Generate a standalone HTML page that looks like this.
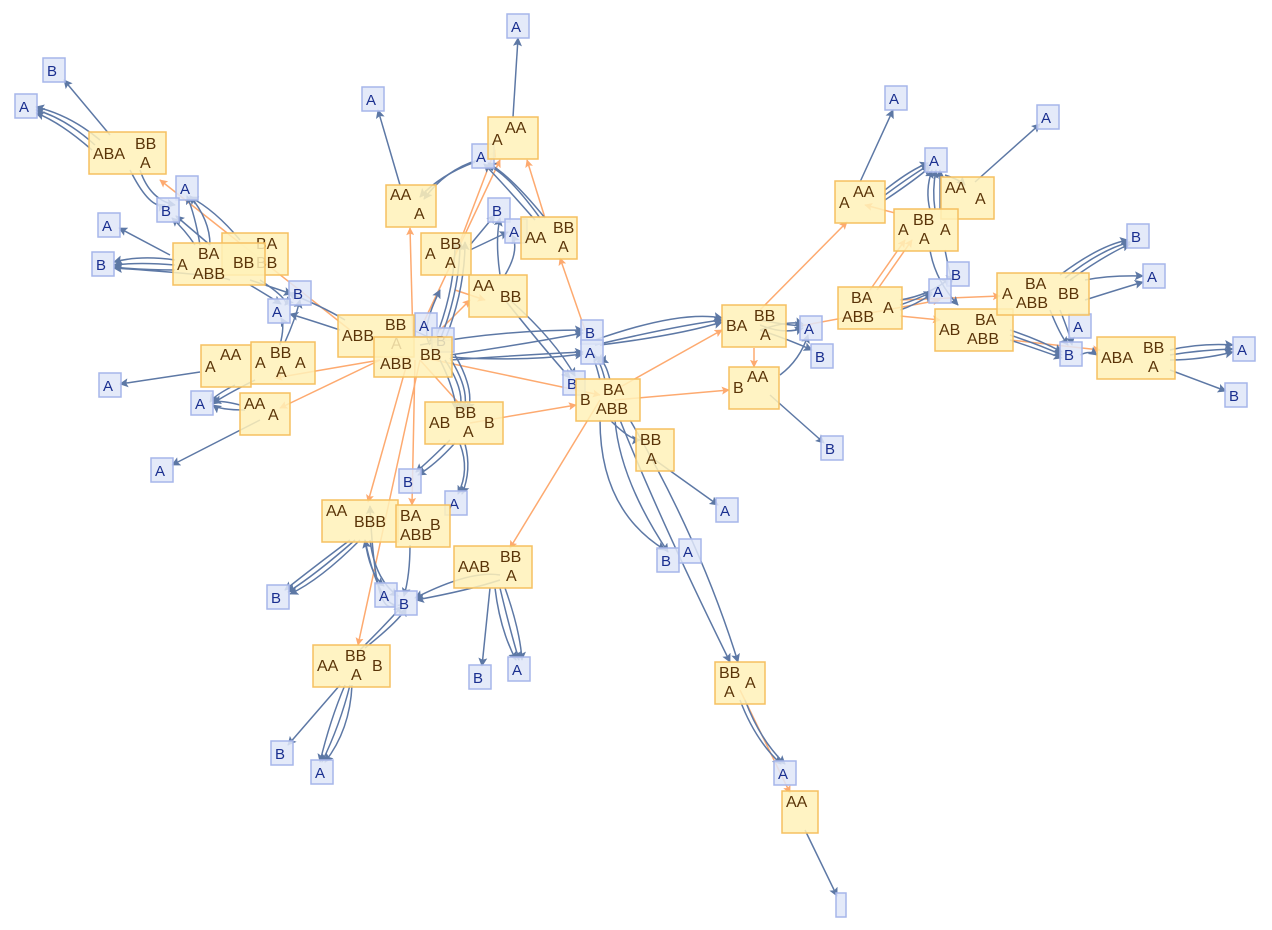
<!DOCTYPE html>
<html><head><meta charset="utf-8"><style>
html,body{margin:0;padding:0;background:#fff;}
svg{display:block;font-family:"Liberation Sans",sans-serif;}
.y{fill:#fff1b8;fill-opacity:.85;stroke:#f5c060;stroke-width:1.5}
.b{fill:#dfe6f8;fill-opacity:.85;stroke:#a6b6ea;stroke-width:1.5}
.yt{fill:#5a3408;font-size:16px}
.bt{fill:#1a2f8f;font-size:15px}
.e{fill:none;stroke:#5d78a5;stroke-width:1.5;marker-end:url(#ab)}
.o{fill:none;stroke:#fdaa70;stroke-width:1.5;marker-end:url(#ao)}
</style></head><body>
<svg width="1272" height="930" viewBox="0 0 1272 930">
<defs>
<marker id="ab" viewBox="0 0 10 10" refX="9" refY="5" markerWidth="9" markerHeight="9" orient="auto" markerUnits="userSpaceOnUse"><path d="M0,0L10,5L0,10L2,5z" fill="#5d78a5"/></marker>
<marker id="ao" viewBox="0 0 10 10" refX="9" refY="5" markerWidth="8" markerHeight="8" orient="auto" markerUnits="userSpaceOnUse"><path d="M0,0L10,5L0,10L2,5z" fill="#fdaa70"/></marker>
</defs>
<!-- orange edges -->
<g>
<path class="o" d="M413,340L410,228"/>
<path class="o" d="M420,330L500,160"/>
<path class="o" d="M545,218L527,160"/>
<path class="o" d="M408,360L368,502"/>
<path class="o" d="M415,360L412,505"/>
<path class="o" d="M420,360L358,645"/>
<path class="o" d="M420,357L600,395"/>
<path class="o" d="M420,360L465,410"/>
<path class="o" d="M380,360L275,378"/>
<path class="o" d="M380,360L280,408"/>
<path class="o" d="M350,330L160,180"/>
<path class="o" d="M600,400L510,548"/>
<path class="o" d="M615,390L722,330"/>
<path class="o" d="M615,400L729,390"/>
<path class="o" d="M585,330L560,258"/>
<path class="o" d="M754,348L754,367"/>
<path class="o" d="M760,310L847,222"/>
<path class="o" d="M870,290L905,240"/>
<path class="o" d="M877,290L912,240"/>
<path class="o" d="M895,213L865,205"/>
<path class="o" d="M900,300L1000,296"/>
<path class="o" d="M900,316L940,320"/>
<path class="o" d="M1010,340L1100,350"/>
<path class="o" d="M470,423L576,405"/>
<path class="o" d="M740,690L790,793"/>
<path class="o" d="M440,330L470,300"/>
<path class="o" d="M455,290L485,300"/>
<path class="o" d="M455,255L495,150"/>
<path class="o" d="M800,326L940,300"/>
</g>
<!-- blue edges -->
<g>
<path class="e" d="M110,135L64,80"/>
<path class="e" d="M100,140Q70,115 36,107"/>
<path class="e" d="M95,145Q65,118 36,110"/>
<path class="e" d="M92,150Q60,122 36,113"/>
<path class="e" d="M200,245Q195,215 187,196"/>
<path class="e" d="M210,245Q210,220 190,196"/>
<path class="e" d="M240,240Q215,210 190,197"/>
<path class="e" d="M195,245Q185,230 172,218"/>
<path class="e" d="M210,245Q190,228 176,216"/>
<path class="e" d="M170,255L119,228"/>
<path class="e" d="M175,260Q140,255 114,262"/>
<path class="e" d="M175,265Q140,262 114,265"/>
<path class="e" d="M175,270Q140,270 114,267"/>
<path class="e" d="M230,280Q220,275 114,268"/>
<path class="e" d="M250,280L292,294"/>
<path class="e" d="M260,280Q290,300 285,305"/>
<path class="e" d="M250,285Q275,300 281,304"/>
<path class="e" d="M140,170Q150,200 175,205"/>
<path class="e" d="M130,170Q150,210 165,205"/>
<path class="e" d="M400,185L378,110"/>
<path class="e" d="M513,117L518,38"/>
<path class="e" d="M540,218Q505,170 486,165"/>
<path class="e" d="M545,218Q510,175 488,163"/>
<path class="e" d="M535,220Q500,180 484,164"/>
<path class="e" d="M475,162Q440,175 420,197"/>
<path class="e" d="M478,160Q445,170 424,199"/>
<path class="e" d="M470,245L495,215"/>
<path class="e" d="M470,250L508,232"/>
<path class="e" d="M505,275Q520,250 512,235"/>
<path class="e" d="M500,275Q495,240 500,218"/>
<path class="e" d="M505,300Q545,350 570,378"/>
<path class="e" d="M510,300Q555,340 575,376"/>
<path class="e" d="M413,330L437,341"/>
<path class="e" d="M420,345Q500,330 583,330"/>
<path class="e" d="M450,355Q520,345 583,333"/>
<path class="e" d="M450,360Q520,355 583,352"/>
<path class="e" d="M450,357Q520,362 583,354"/>
<path class="e" d="M440,360Q455,390 456,410"/>
<path class="e" d="M445,360Q465,390 460,410"/>
<path class="e" d="M450,358Q470,390 464,410"/>
<path class="e" d="M455,355Q475,390 468,410"/>
<path class="e" d="M440,340Q460,290 460,242"/>
<path class="e" d="M445,340Q465,290 465,242"/>
<path class="e" d="M435,340Q455,290 455,242"/>
<path class="e" d="M345,320Q320,305 288,293"/>
<path class="e" d="M340,330Q310,320 290,314"/>
<path class="e" d="M200,372L120,384"/>
<path class="e" d="M235,385Q215,395 210,402"/>
<path class="e" d="M255,380Q225,395 212,404"/>
<path class="e" d="M240,405Q220,400 213,402"/>
<path class="e" d="M245,410Q220,410 213,405"/>
<path class="e" d="M260,420L172,465"/>
<path class="e" d="M280,345Q285,325 281,318"/>
<path class="e" d="M285,342Q295,320 300,300"/>
<path class="e" d="M450,440Q430,460 416,472"/>
<path class="e" d="M455,443Q435,465 418,475"/>
<path class="e" d="M460,444Q470,470 458,494"/>
<path class="e" d="M465,444Q472,470 462,494"/>
<path class="e" d="M600,380Q595,360 594,362"/>
<path class="e" d="M605,380Q600,360 597,362"/>
<path class="e" d="M610,380Q605,360 600,362"/>
<path class="e" d="M600,420Q600,510 665,550"/>
<path class="e" d="M615,420Q620,480 668,552"/>
<path class="e" d="M630,420Q700,540 738,662"/>
<path class="e" d="M620,420Q660,520 730,662"/>
<path class="e" d="M655,460L718,505"/>
<path class="e" d="M610,420Q630,440 640,440"/>
<path class="e" d="M595,340Q680,310 722,318"/>
<path class="e" d="M595,345Q680,325 722,320"/>
<path class="e" d="M600,345Q680,335 722,322"/>
<path class="e" d="M760,320Q785,325 803,326"/>
<path class="e" d="M760,325Q785,335 803,328"/>
<path class="e" d="M760,330Q790,340 812,350"/>
<path class="e" d="M760,330Q790,320 803,324"/>
<path class="e" d="M770,395L824,443"/>
<path class="e" d="M780,375Q800,360 808,335"/>
<path class="e" d="M860,182L893,110"/>
<path class="e" d="M975,182L1040,124"/>
<path class="e" d="M885,190Q910,170 928,163"/>
<path class="e" d="M885,195Q912,175 929,165"/>
<path class="e" d="M885,200Q915,180 930,167"/>
<path class="e" d="M930,210Q925,190 932,170"/>
<path class="e" d="M935,210Q932,190 936,170"/>
<path class="e" d="M940,210Q940,190 940,170"/>
<path class="e" d="M945,175Q960,180 965,185"/>
<path class="e" d="M930,250Q935,280 958,305"/>
<path class="e" d="M945,250Q950,275 952,282"/>
<path class="e" d="M900,300Q930,295 950,278"/>
<path class="e" d="M900,305Q915,300 932,292"/>
<path class="e" d="M900,310Q915,305 932,294"/>
<path class="e" d="M1060,275Q1100,245 1128,240"/>
<path class="e" d="M1065,278Q1100,250 1130,242"/>
<path class="e" d="M1070,280Q1105,255 1130,244"/>
<path class="e" d="M1085,280Q1110,275 1143,276"/>
<path class="e" d="M1085,300Q1110,292 1143,282"/>
<path class="e" d="M1010,330Q1040,340 1062,352"/>
<path class="e" d="M1010,335Q1040,345 1062,355"/>
<path class="e" d="M1010,340Q1040,350 1062,358"/>
<path class="e" d="M1050,310Q1060,335 1068,345"/>
<path class="e" d="M1060,310Q1070,335 1072,345"/>
<path class="e" d="M1170,350Q1200,343 1233,345"/>
<path class="e" d="M1170,355Q1200,350 1233,349"/>
<path class="e" d="M1170,360Q1200,360 1233,352"/>
<path class="e" d="M1170,370L1226,391"/>
<path class="e" d="M1080,355Q1090,350 1097,355"/>
<path class="e" d="M350,540Q310,570 285,590"/>
<path class="e" d="M355,540Q315,575 288,592"/>
<path class="e" d="M360,540Q320,580 290,594"/>
<path class="e" d="M365,540Q370,575 384,586"/>
<path class="e" d="M370,540Q375,580 398,596"/>
<path class="e" d="M410,545Q410,575 404,596"/>
<path class="e" d="M500,575Q470,570 415,598"/>
<path class="e" d="M500,580Q470,590 416,600"/>
<path class="e" d="M490,588L482,666"/>
<path class="e" d="M495,588Q500,630 516,660"/>
<path class="e" d="M500,588Q510,630 519,660"/>
<path class="e" d="M505,588Q520,630 522,660"/>
<path class="e" d="M395,605Q375,620 370,506"/>
<path class="e" d="M400,605Q380,610 365,540"/>
<path class="e" d="M340,685L288,745"/>
<path class="e" d="M345,685Q330,720 320,762"/>
<path class="e" d="M350,685Q340,725 322,762"/>
<path class="e" d="M352,685Q350,730 325,762"/>
<path class="e" d="M360,650Q390,620 402,606"/>
<path class="e" d="M365,648Q400,620 406,608"/>
<path class="e" d="M740,700Q755,740 781,764"/>
<path class="e" d="M745,700Q760,740 785,764"/>
<path class="e" d="M805,830L837,896"/>
<path class="e" d="M430,345Q420,330 440,290"/>
</g>
<!-- blue nodes -->
<g>
<rect class="b" x="507" y="14" width="22" height="24"/><text class="bt" x="511" y="32">A</text>
<rect class="b" x="362" y="87" width="22" height="24"/><text class="bt" x="366" y="105">A</text>
<rect class="b" x="43" y="58" width="22" height="24"/><text class="bt" x="47" y="76">B</text>
<rect class="b" x="15" y="94" width="22" height="24"/><text class="bt" x="19" y="112">A</text>
<rect class="b" x="176" y="176" width="22" height="24"/><text class="bt" x="180" y="194">A</text>
<rect class="b" x="157" y="198" width="22" height="24"/><text class="bt" x="161" y="216">B</text>
<rect class="b" x="98" y="213" width="22" height="24"/><text class="bt" x="102" y="231">A</text>
<rect class="b" x="92" y="252" width="22" height="24"/><text class="bt" x="96" y="270">B</text>
<rect class="b" x="289" y="281" width="22" height="24"/><text class="bt" x="293" y="299">B</text>
<rect class="b" x="268" y="299" width="22" height="24"/><text class="bt" x="272" y="317">A</text>
<rect class="b" x="472" y="144" width="22" height="24"/><text class="bt" x="476" y="162">A</text>
<rect class="b" x="488" y="198" width="22" height="24"/><text class="bt" x="492" y="216">B</text>
<rect class="b" x="505" y="219" width="22" height="24"/><text class="bt" x="509" y="237">A</text>
<rect class="b" x="415" y="313" width="22" height="24"/><text class="bt" x="419" y="331">A</text>
<rect class="b" x="432" y="328" width="22" height="24"/><text class="bt" x="436" y="346">B</text>
<rect class="b" x="581" y="320" width="22" height="24"/><text class="bt" x="585" y="338">B</text>
<rect class="b" x="581" y="340" width="22" height="24"/><text class="bt" x="585" y="358">A</text>
<rect class="b" x="563" y="371" width="22" height="24"/><text class="bt" x="567" y="389">B</text>
<rect class="b" x="99" y="373" width="22" height="24"/><text class="bt" x="103" y="391">A</text>
<rect class="b" x="191" y="391" width="22" height="24"/><text class="bt" x="195" y="409">A</text>
<rect class="b" x="151" y="458" width="22" height="24"/><text class="bt" x="155" y="476">A</text>
<rect class="b" x="399" y="469" width="22" height="24"/><text class="bt" x="403" y="487">B</text>
<rect class="b" x="445" y="491" width="22" height="24"/><text class="bt" x="449" y="509">A</text>
<rect class="b" x="267" y="585" width="22" height="24"/><text class="bt" x="271" y="603">B</text>
<rect class="b" x="375" y="583" width="22" height="24"/><text class="bt" x="379" y="601">A</text>
<rect class="b" x="395" y="591" width="22" height="24"/><text class="bt" x="399" y="609">B</text>
<rect class="b" x="469" y="665" width="22" height="24"/><text class="bt" x="473" y="683">B</text>
<rect class="b" x="508" y="657" width="22" height="24"/><text class="bt" x="512" y="675">A</text>
<rect class="b" x="271" y="741" width="22" height="24"/><text class="bt" x="275" y="759">B</text>
<rect class="b" x="311" y="760" width="22" height="24"/><text class="bt" x="315" y="778">A</text>
<rect class="b" x="657" y="548" width="22" height="24"/><text class="bt" x="661" y="566">B</text>
<rect class="b" x="679" y="539" width="22" height="24"/><text class="bt" x="683" y="557">A</text>
<rect class="b" x="716" y="498" width="22" height="24"/><text class="bt" x="720" y="516">A</text>
<rect class="b" x="821" y="436" width="22" height="24"/><text class="bt" x="825" y="454">B</text>
<rect class="b" x="800" y="316" width="22" height="24"/><text class="bt" x="804" y="334">A</text>
<rect class="b" x="811" y="344" width="22" height="24"/><text class="bt" x="815" y="362">B</text>
<rect class="b" x="885" y="86" width="22" height="24"/><text class="bt" x="889" y="104">A</text>
<rect class="b" x="1037" y="105" width="22" height="24"/><text class="bt" x="1041" y="123">A</text>
<rect class="b" x="925" y="148" width="22" height="24"/><text class="bt" x="929" y="166">A</text>
<rect class="b" x="947" y="262" width="22" height="24"/><text class="bt" x="951" y="280">B</text>
<rect class="b" x="929" y="279" width="22" height="24"/><text class="bt" x="933" y="297">A</text>
<rect class="b" x="1127" y="224" width="22" height="24"/><text class="bt" x="1131" y="242">B</text>
<rect class="b" x="1143" y="264" width="22" height="24"/><text class="bt" x="1147" y="282">A</text>
<rect class="b" x="1069" y="314" width="22" height="24"/><text class="bt" x="1073" y="332">A</text>
<rect class="b" x="1060" y="342" width="22" height="24"/><text class="bt" x="1064" y="360">B</text>
<rect class="b" x="1233" y="337" width="22" height="24"/><text class="bt" x="1237" y="355">A</text>
<rect class="b" x="1225" y="383" width="22" height="24"/><text class="bt" x="1229" y="401">B</text>
<rect class="b" x="774" y="761" width="22" height="24"/><text class="bt" x="778" y="779">A</text>
<rect class="b" x="836" y="893" width="10" height="24"/>
</g>
<!-- yellow nodes -->
<g>
<rect class="y" x="89" y="132" width="77" height="42"/><text class="yt" x="93" y="159">ABA</text><text class="yt" x="135" y="149">BB</text><text class="yt" x="140" y="168">A</text>
<rect class="y" x="222" y="233" width="66" height="42"/><text class="yt" x="256" y="249">BA</text><text class="yt" x="256" y="268">BB</text>
<rect class="y" x="173" y="243" width="92" height="42"/><text class="yt" x="177" y="270">A</text><text class="yt" x="198" y="259">BA</text><text class="yt" x="193" y="279">ABB</text><text class="yt" x="233" y="268">BB</text>
<rect class="y" x="386" y="185" width="50" height="42"/><text class="yt" x="390" y="200">AA</text><text class="yt" x="414" y="219">A</text>
<rect class="y" x="488" y="117" width="50" height="42"/><text class="yt" x="492" y="145">A</text><text class="yt" x="505" y="133">AA</text>
<rect class="y" x="421" y="233" width="50" height="42"/><text class="yt" x="425" y="259">A</text><text class="yt" x="440" y="249">BB</text><text class="yt" x="445" y="268">A</text>
<rect class="y" x="521" y="217" width="56" height="42"/><text class="yt" x="525" y="243">AA</text><text class="yt" x="553" y="233">BB</text><text class="yt" x="558" y="252">A</text>
<rect class="y" x="469" y="275" width="58" height="42"/><text class="yt" x="473" y="291">AA</text><text class="yt" x="500" y="302">BB</text>
<rect class="y" x="338" y="315" width="76" height="42"/><text class="yt" x="342" y="341">ABB</text><text class="yt" x="385" y="330">BB</text><text class="yt" x="391" y="349">A</text>
<rect class="y" x="374" y="337" width="78" height="40"/><text class="yt" x="380" y="369">ABB</text><text class="yt" x="420" y="360">BB</text>
<rect class="y" x="201" y="345" width="50" height="42"/><text class="yt" x="205" y="372">A</text><text class="yt" x="220" y="360">AA</text>
<rect class="y" x="251" y="342" width="64" height="42"/><text class="yt" x="255" y="368">A</text><text class="yt" x="270" y="358">BB</text><text class="yt" x="276" y="377">A</text><text class="yt" x="295" y="368">A</text>
<rect class="y" x="240" y="393" width="50" height="42"/><text class="yt" x="244" y="409">AA</text><text class="yt" x="268" y="420">A</text>
<rect class="y" x="425" y="402" width="78" height="42"/><text class="yt" x="429" y="428">AB</text><text class="yt" x="455" y="418">BB</text><text class="yt" x="484" y="428">B</text><text class="yt" x="463" y="437">A</text>
<rect class="y" x="576" y="379" width="64" height="42"/><text class="yt" x="580" y="405">B</text><text class="yt" x="603" y="395">BA</text><text class="yt" x="596" y="414">ABB</text>
<rect class="y" x="636" y="429" width="38" height="42"/><text class="yt" x="640" y="445">BB</text><text class="yt" x="646" y="464">A</text>
<rect class="y" x="722" y="305" width="64" height="42"/><text class="yt" x="726" y="331">BA</text><text class="yt" x="754" y="321">BB</text><text class="yt" x="760" y="340">A</text>
<rect class="y" x="729" y="367" width="50" height="42"/><text class="yt" x="733" y="393">B</text><text class="yt" x="747" y="382">AA</text>
<rect class="y" x="835" y="181" width="50" height="42"/><text class="yt" x="839" y="208">A</text><text class="yt" x="853" y="197">AA</text>
<rect class="y" x="941" y="177" width="53" height="42"/><text class="yt" x="945" y="193">AA</text><text class="yt" x="975" y="204">A</text>
<rect class="y" x="894" y="209" width="64" height="42"/><text class="yt" x="898" y="235">A</text><text class="yt" x="913" y="225">BB</text><text class="yt" x="919" y="244">A</text><text class="yt" x="940" y="235">A</text>
<rect class="y" x="838" y="287" width="64" height="42"/><text class="yt" x="851" y="303">BA</text><text class="yt" x="842" y="322">ABB</text><text class="yt" x="883" y="313">A</text>
<rect class="y" x="935" y="309" width="78" height="42"/><text class="yt" x="939" y="335">AB</text><text class="yt" x="975" y="325">BA</text><text class="yt" x="967" y="344">ABB</text>
<rect class="y" x="997" y="273" width="92" height="42"/><text class="yt" x="1002" y="299">A</text><text class="yt" x="1025" y="289">BA</text><text class="yt" x="1016" y="308">ABB</text><text class="yt" x="1058" y="299">BB</text>
<rect class="y" x="1097" y="337" width="78" height="42"/><text class="yt" x="1101" y="363">ABA</text><text class="yt" x="1143" y="353">BB</text><text class="yt" x="1148" y="372">A</text>
<rect class="y" x="322" y="500" width="76" height="42"/><text class="yt" x="326" y="516">AA</text><text class="yt" x="354" y="527">BBB</text>
<rect class="y" x="396" y="505" width="54" height="42"/><text class="yt" x="400" y="521">BA</text><text class="yt" x="430" y="530">B</text><text class="yt" x="400" y="540">ABB</text>
<rect class="y" x="454" y="546" width="78" height="42"/><text class="yt" x="458" y="572">AAB</text><text class="yt" x="500" y="562">BB</text><text class="yt" x="506" y="581">A</text>
<rect class="y" x="313" y="645" width="77" height="42"/><text class="yt" x="317" y="671">AA</text><text class="yt" x="345" y="661">BB</text><text class="yt" x="372" y="671">B</text><text class="yt" x="351" y="680">A</text>
<rect class="y" x="715" y="662" width="50" height="42"/><text class="yt" x="719" y="678">BB</text><text class="yt" x="724" y="697">A</text><text class="yt" x="745" y="688">A</text>
<rect class="y" x="782" y="791" width="36" height="42"/><text class="yt" x="786" y="807">AA</text>
</g>
</svg>
</body></html>
